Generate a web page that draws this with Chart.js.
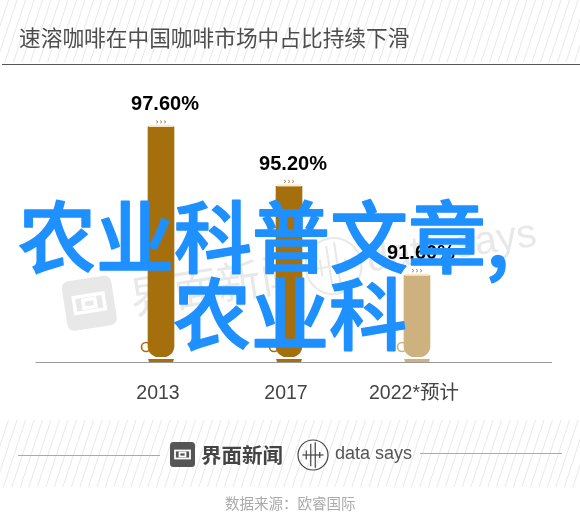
<!DOCTYPE html>
<html>
<head>
<meta charset="utf-8">
<style>
  html, body { margin: 0; padding: 0; background: #fff; }
  canvas { display: block; }
</style>
<script src="https://cdn.jsdelivr.net/npm/chart.js@4"></script>
</head>
<body>
<canvas id="myChart" width="580" height="532"></canvas>
<script>
const categories = ['2013', '2017', '2022*预计'];
const shareValues = [97.6, 95.2, 91.6];
const valueLabels = ['97.60%', '95.20%', '91.60%'];
const barColors = ['#a66f0e', '#a66f0e', '#cdb27f'];
const axisMin = 88.32;
const axisMax = 100.3;

const titleText = '速溶咖啡在中国咖啡市场中占比持续下滑';
const sourceText = '数据来源：欧睿国际';
const overlayLine1 = '农业科普文章,';
const overlayLine2 = '农业科';

const SANS = '"Liberation Sans", "Noto Sans CJK SC", sans-serif';
const CJK = '"Noto Sans CJK SC", sans-serif';

function hatch(ctx, top, bottom) {
  ctx.save();
  ctx.beginPath();
  ctx.rect(0, top, 580, bottom - top);
  ctx.clip();
  ctx.strokeStyle = '#e2e2e2';
  ctx.lineWidth = 0.8;
  const lean = (bottom - top) * 0.33;
  for (let x = -lean; x < 600; x += 8.5) {
    ctx.beginPath();
    ctx.moveTo(x, bottom);
    ctx.lineTo(x + lean, top);
    ctx.stroke();
  }
  ctx.restore();
}

function text(ctx, str, x, y, font, color, align) {
  ctx.font = font;
  ctx.fillStyle = color;
  ctx.textAlign = align || 'left';
  ctx.textBaseline = 'middle';
  ctx.fillText(str, x, y);
}

// the square logo and the round one, used in the footer and the watermark
function squareLogo(ctx, x, y, s, color, inner) {
  ctx.fillStyle = color;
  ctx.beginPath();
  ctx.roundRect(x, y, s, s, s * 0.14);
  ctx.fill();
  ctx.strokeStyle = inner;
  ctx.lineWidth = s * 0.07;
  ctx.strokeRect(x + s * 0.2, y + s * 0.34, s * 0.6, s * 0.32);
  ctx.strokeRect(x + s * 0.38, y + s * 0.42, s * 0.24, s * 0.16);
}

function roundLogo(ctx, x, y, r, color, width) {
  ctx.strokeStyle = color;
  ctx.lineWidth = width;
  ctx.beginPath();
  ctx.arc(x, y, r, 0, Math.PI * 2);
  ctx.stroke();
  [[-0.45, 0.3], [-0.15, 0.75], [0.15, 0.85], [0.45, 0.2]].forEach(b => {
    ctx.beginPath();
    ctx.moveTo(x + b[0] * r, y - b[1] * r);
    ctx.lineTo(x + b[0] * r, y + b[1] * r);
    ctx.stroke();
  });
  ctx.beginPath();
  ctx.moveTo(x - 0.7 * r, y);
  ctx.lineTo(x + 0.7 * r, y);
  ctx.stroke();
}

const backdrop = {
  id: 'backdrop',
  beforeDraw(chart) {
    const ctx = chart.ctx;
    ctx.save();
    ctx.fillStyle = '#fff';
    ctx.fillRect(0, 0, 580, 532);
    hatch(ctx, 0, 62);
    hatch(ctx, 420, 487);

    text(ctx, titleText, 19, 38, '21.7px ' + CJK, '#4d4d4d');
    ctx.fillStyle = '#555';
    ctx.fillRect(2, 64, 578, 1);

    // watermark
    ctx.save();
    ctx.translate(66, 316);
    ctx.rotate(-0.155);
    squareLogo(ctx, 0, -34, 50, '#e8e8e8', '#fff');
    text(ctx, '界面新闻', 66, -8, '44px ' + CJK, '#e8e8e8');
    roundLogo(ctx, 272, -8, 28, '#e8e8e8', 2);
    text(ctx, 'data says', 306, -8, '40px ' + SANS, '#e8e8e8');
    ctx.restore();

    // baseline
    ctx.fillStyle = '#999';
    ctx.fillRect(35.5, 362, 516.5, 1);

    // footer
    ctx.fillStyle = '#aaa';
    ctx.fillRect(18, 455, 142, 1);
    ctx.fillRect(420, 453, 142, 1);
    squareLogo(ctx, 170, 442, 25, '#555', '#fff');
    text(ctx, '界面新闻', 201, 455, 'bold 20.5px ' + CJK, '#444');
    roundLogo(ctx, 313, 455, 15, '#444', 1.2);
    text(ctx, 'data says', 335, 454, '18px ' + SANS, '#555');
    text(ctx, sourceText, 225, 503, '14.5px ' + CJK, '#aaa');
    ctx.restore();
  }
};

const cupParts = {
  id: 'cupParts',
  afterDatasetsDraw(chart) {
    const ctx = chart.ctx;
    const bars = chart.getDatasetMeta(0).data;
    ctx.save();
    bars.forEach((bar, i) => {
      const left = bar.x - 13;
      const right = bar.x + 13;
      const color = barColors[i];

      // handle
      ctx.strokeStyle = color;
      ctx.lineWidth = 1.6;
      ctx.beginPath();
      ctx.arc(left - 2, bar.base - 10, 4.5, 0, Math.PI * 2);
      ctx.stroke();

      // saucer
      ctx.fillStyle = color;
      ctx.beginPath();
      ctx.moveTo(left, bar.base + 2);
      ctx.lineTo(right, bar.base + 2);
      ctx.lineTo(right - 1, bar.base + 5);
      ctx.lineTo(left + 1, bar.base + 5);
      ctx.closePath();
      ctx.fill();

      // rim and steam
      ctx.fillStyle = '#fbe9c8';
      ctx.fillRect(left + 1, bar.y - 2, 24, 2);
      ctx.strokeStyle = '#8a6a30';
      ctx.lineWidth = 0.7;
      [-4, 0, 4].forEach(dx => {
        ctx.beginPath();
        ctx.moveTo(bar.x + dx - 1, bar.y - 6.5);
        ctx.lineTo(bar.x + dx + 1, bar.y - 5);
        ctx.lineTo(bar.x + dx - 1, bar.y - 3.5);
        ctx.stroke();
      });

      text(ctx, valueLabels[i], bar.x + 4, bar.y - 22, 'bold 20px ' + SANS, '#000', 'center');
    });
    ctx.restore();
  }
};

const overlay = {
  id: 'overlay',
  afterDraw(chart) {
    const ctx = chart.ctx;
    ctx.save();
    ctx.strokeStyle = '#1e90ff';
    ctx.lineWidth = 1.6;
    ctx.lineJoin = 'round';
    text(ctx, overlayLine1, 18, 237, '500 78px ' + CJK, '#1e90ff');
    ctx.strokeText(overlayLine1, 18, 237);
    text(ctx, overlayLine2, 173, 314, '500 78px ' + CJK, '#1e90ff');
    ctx.strokeText(overlayLine2, 173, 314);
    ctx.restore();
  }
};

new Chart(document.getElementById('myChart'), {
  type: 'bar',
  data: {
    labels: categories,
    datasets: [{
      data: shareValues,
      base: axisMin,
      backgroundColor: barColors,
      barThickness: 26,
      borderSkipped: false,
      borderRadius: { topLeft: 0, topRight: 0, bottomLeft: 11, bottomRight: 11 }
    }]
  },
  options: {
    responsive: false,
    animation: false,
    devicePixelRatio: 1,
    layout: { padding: { left: 97, right: 99, top: 60, bottom: 0 } },
    plugins: { legend: { display: false }, tooltip: { enabled: false } },
    scales: {
      x: {
        grid: { display: false, drawTicks: false },
        border: { display: false },
        ticks: { color: '#444', padding: 25, labelOffset: -3, font: { size: 19.5, family: SANS } },
        afterFit(scale) { scale.height = 175; }
      },
      y: { display: false, min: axisMin, max: axisMax }
    }
  },
  plugins: [backdrop, cupParts, overlay]
});
</script>
</body>
</html>
